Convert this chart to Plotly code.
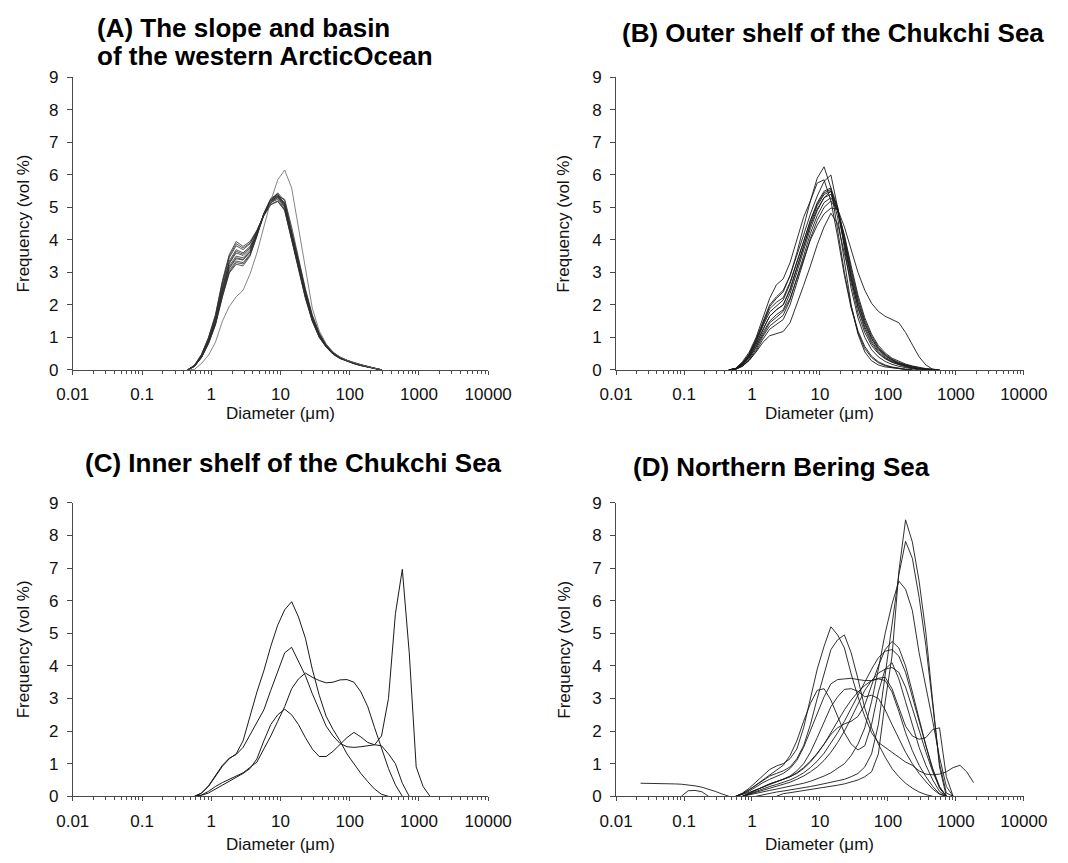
import plotly.graph_objects as go

# ---------------- data ----------------
TICK_VALS = [0.01, 0.1, 1, 10, 100, 1000, 10000]
TICK_TEXT = ["0.01", "0.1", "1", "10", "100", "1000", "10000"]
Y_TICKS = [0, 1, 2, 3, 4, 5, 6, 7, 8, 9]

A_DIAM = [0.457, 0.575, 0.724, 0.912, 1.15, 1.45, 1.82, 2.29, 2.88, 3.63, 4.57, 5.75, 7.24, 9.12,
          11.5, 14.5, 18.2, 22.9, 28.8, 36.3, 45.7, 57.5, 72.4, 91.2, 115, 145, 182, 229, 288]
A_CURVES = [
    [0, 0.15, 0.48, 1.0, 1.7, 2.75, 3.55, 3.95, 3.8, 3.95, 4.3, 4.75, 5.1, 5.2, 4.9, 4.0, 3.1, 2.2, 1.5, 1.0, 0.7, 0.48, 0.35, 0.26, 0.19, 0.13, 0.08, 0.03, 0],
    [0, 0.14, 0.46, 0.96, 1.64, 2.65, 3.45, 3.82, 3.7, 3.88, 4.28, 4.78, 5.15, 5.25, 4.95, 4.05, 3.15, 2.25, 1.52, 1.02, 0.71, 0.49, 0.36, 0.27, 0.2, 0.14, 0.09, 0.04, 0],
    [0, 0.13, 0.44, 0.92, 1.58, 2.56, 3.35, 3.7, 3.6, 3.8, 4.25, 4.78, 5.18, 5.3, 5.0, 4.1, 3.18, 2.27, 1.53, 1.03, 0.72, 0.5, 0.36, 0.27, 0.2, 0.14, 0.09, 0.04, 0],
    [0, 0.13, 0.42, 0.9, 1.52, 2.48, 3.27, 3.6, 3.52, 3.74, 4.22, 4.8, 5.2, 5.33, 5.02, 4.12, 3.2, 2.3, 1.55, 1.05, 0.72, 0.5, 0.36, 0.27, 0.2, 0.14, 0.09, 0.04, 0],
    [0, 0.12, 0.41, 0.87, 1.48, 2.42, 3.2, 3.5, 3.45, 3.68, 4.2, 4.8, 5.22, 5.35, 5.05, 4.15, 3.22, 2.32, 1.56, 1.06, 0.73, 0.51, 0.37, 0.28, 0.2, 0.14, 0.09, 0.04, 0],
    [0, 0.12, 0.4, 0.85, 1.45, 2.36, 3.12, 3.42, 3.38, 3.62, 4.18, 4.8, 5.24, 5.38, 5.08, 4.18, 3.25, 2.34, 1.58, 1.07, 0.73, 0.51, 0.37, 0.28, 0.21, 0.15, 0.09, 0.04, 0],
    [0, 0.11, 0.39, 0.83, 1.42, 2.3, 3.05, 3.35, 3.3, 3.56, 4.15, 4.8, 5.26, 5.4, 5.1, 4.2, 3.28, 2.36, 1.6, 1.08, 0.74, 0.52, 0.37, 0.28, 0.21, 0.15, 0.1, 0.04, 0],
    [0, 0.11, 0.38, 0.8, 1.38, 2.24, 2.98, 3.25, 3.2, 3.5, 4.12, 4.82, 5.28, 5.42, 5.12, 4.22, 3.3, 2.38, 1.62, 1.09, 0.75, 0.52, 0.38, 0.29, 0.21, 0.15, 0.1, 0.05, 0],
    [0, 0.14, 0.47, 0.98, 1.67, 2.7, 3.5, 3.88, 3.75, 3.9, 4.28, 4.74, 5.08, 5.18, 4.92, 4.02, 3.12, 2.22, 1.5, 1.0, 0.7, 0.48, 0.35, 0.26, 0.19, 0.13, 0.08, 0.03, 0],
    [0, 0.12, 0.4, 0.86, 1.46, 2.38, 3.15, 3.45, 3.4, 3.64, 4.18, 4.78, 5.2, 5.45, 5.2, 4.3, 3.35, 2.42, 1.64, 1.1, 0.76, 0.53, 0.38, 0.29, 0.21, 0.15, 0.1, 0.05, 0],
    [0, 0.13, 0.43, 0.91, 1.55, 2.52, 3.3, 3.65, 3.56, 3.76, 4.22, 4.76, 5.15, 5.3, 5.15, 4.3, 3.38, 2.45, 1.66, 1.12, 0.77, 0.53, 0.39, 0.29, 0.21, 0.15, 0.1, 0.05, 0],
    [0, 0.11, 0.38, 0.81, 1.4, 2.27, 3.0, 3.3, 3.26, 3.53, 4.12, 4.76, 5.2, 5.35, 5.25, 4.4, 3.45, 2.5, 1.7, 1.14, 0.78, 0.54, 0.39, 0.29, 0.22, 0.16, 0.1, 0.05, 0],
]
A_OUTLIER = [0, 0.02, 0.2, 0.45, 0.85, 1.5, 1.95, 2.25, 2.45, 2.95, 3.6, 4.4, 5.2, 5.85, 6.15, 5.6, 4.4, 3.1, 1.9, 1.2, 0.8, 0.55, 0.4, 0.3, 0.22, 0.16, 0.1, 0.05, 0]

B_DIAM = [0.457, 0.575, 0.724, 0.912, 1.15, 1.45, 1.82, 2.29, 2.88, 3.63, 4.57, 5.75, 7.24, 9.12, 11.5, 14.5,
          18.2, 22.9, 28.8, 36.3, 45.7, 57.5, 72.4, 91.2, 115, 145, 182, 229, 288, 363, 457, 575]
B_CURVES = [
    [0, 0.05, 0.25, 0.55, 1.0, 1.6, 2.2, 2.62, 2.8, 3.3, 4.0, 4.7, 5.2, 5.75, 5.85, 5.2, 4.1, 2.9, 1.9, 1.15, 0.65, 0.38, 0.22, 0.13, 0.07, 0.03, 0.01, 0, 0, 0, 0, 0],
    [0, 0.04, 0.2, 0.48, 0.9, 1.45, 1.95, 2.2, 2.4, 2.9, 3.6, 4.4, 5.2, 5.9, 6.25, 5.6, 4.3, 3.0, 1.95, 1.2, 0.72, 0.42, 0.25, 0.15, 0.09, 0.05, 0.02, 0, 0, 0, 0, 0],
    [0, 0.02, 0.12, 0.3, 0.55, 0.85, 1.05, 1.12, 1.18, 1.45, 2.0, 2.6, 3.2, 3.85, 4.4, 4.82, 4.5, 3.6, 2.6, 1.75, 1.15, 0.75, 0.5, 0.34, 0.23, 0.15, 0.09, 0.05, 0.02, 0, 0, 0],
    [0, 0.03, 0.16, 0.38, 0.7, 1.1, 1.45, 1.62, 1.8, 2.2, 2.8, 3.4, 4.0, 4.45, 4.8, 4.98, 4.95, 4.4, 3.7, 3.0, 2.45, 2.05, 1.8, 1.65, 1.55, 1.45, 1.15, 0.75, 0.4, 0.15, 0.02, 0],
    [0, 0.04, 0.22, 0.5, 0.95, 1.5, 2.0, 2.25, 2.45, 2.9, 3.5, 4.15, 4.8, 5.35, 5.8, 6.0, 5.0, 3.7, 2.5, 1.6, 1.0, 0.62, 0.4, 0.26, 0.17, 0.11, 0.06, 0.03, 0, 0, 0, 0],
    [0, 0.03, 0.17, 0.42, 0.8, 1.25, 1.65, 1.85, 2.0, 2.45, 3.1, 3.8, 4.5, 5.05, 5.4, 5.5, 4.7, 3.3, 2.0, 1.1, 0.55, 0.28, 0.15, 0.09, 0.06, 0.04, 0.02, 0, 0, 0, 0, 0],
    [0, 0.03, 0.18, 0.45, 0.85, 1.35, 1.78, 1.98, 2.15, 2.65, 3.3, 3.95, 4.6, 5.1, 5.45, 5.55, 4.9, 3.85, 2.8, 1.95, 1.32, 0.88, 0.58, 0.39, 0.27, 0.18, 0.11, 0.06, 0.03, 0.01, 0, 0],
    [0, 0.03, 0.16, 0.4, 0.78, 1.25, 1.65, 1.85, 2.0, 2.5, 3.15, 3.8, 4.45, 4.95, 5.3, 5.4, 4.9, 3.95, 2.9, 2.05, 1.4, 0.95, 0.63, 0.43, 0.3, 0.2, 0.13, 0.08, 0.04, 0.02, 0, 0],
    [0, 0.02, 0.14, 0.36, 0.72, 1.15, 1.5, 1.7, 1.85, 2.35, 3.0, 3.7, 4.35, 4.9, 5.3, 5.5, 5.0, 4.05, 3.0, 2.1, 1.45, 0.98, 0.66, 0.45, 0.31, 0.21, 0.14, 0.09, 0.05, 0.02, 0.01, 0],
    [0, 0.02, 0.12, 0.32, 0.64, 1.03, 1.35, 1.52, 1.68, 2.15, 2.8, 3.5, 4.2, 4.75, 5.15, 5.3, 4.95, 4.1, 3.1, 2.2, 1.52, 1.04, 0.7, 0.48, 0.33, 0.23, 0.16, 0.1, 0.06, 0.03, 0.01, 0],
    [0, 0.04, 0.2, 0.47, 0.9, 1.42, 1.88, 2.08, 2.22, 2.7, 3.3, 3.95, 4.6, 5.15, 5.5, 5.6, 5.0, 3.9, 2.8, 1.9, 1.25, 0.82, 0.54, 0.36, 0.25, 0.17, 0.11, 0.06, 0.03, 0.01, 0, 0],
    [0, 0.02, 0.11, 0.29, 0.58, 0.95, 1.25, 1.4, 1.55, 2.0, 2.65, 3.35, 4.05, 4.6, 5.0, 5.2, 4.9, 4.15, 3.2, 2.3, 1.6, 1.1, 0.75, 0.52, 0.36, 0.26, 0.18, 0.12, 0.07, 0.04, 0.02, 0],
]

C_DIAM = [0.575, 0.724, 0.912, 1.15, 1.45, 1.82, 2.29, 2.88, 3.63, 4.57, 5.75, 7.24, 9.12, 11.5, 14.5, 18.2, 22.9, 28.8,
          36.3, 45.7, 57.5, 72.4, 91.2, 115, 145, 182, 229, 288, 363, 457, 575, 724, 912, 1148, 1445]
C_CURVES = [
    [0, 0.1, 0.3, 0.62, 0.92, 1.15, 1.3, 1.7, 2.45, 3.2, 3.85, 4.6, 5.25, 5.72, 5.97, 5.5, 4.85, 3.9, 3.1, 2.45, 2.05, 1.7, 1.3, 1.0, 0.7, 0.45, 0.22, 0.06, 0, 0, 0, 0, 0, 0, 0],
    [0, 0.1, 0.32, 0.65, 0.95, 1.17, 1.28, 1.5, 1.9, 2.25, 2.65, 3.25, 3.85, 4.4, 4.57, 4.15, 3.7, 3.15, 2.65, 2.15, 1.85, 1.62, 1.52, 1.5, 1.52, 1.55, 1.58, 1.55, 1.3, 1.0, 0.4, 0, 0, 0, 0],
    [0, 0.04, 0.15, 0.3, 0.42, 0.53, 0.62, 0.72, 0.88, 1.05, 1.45, 1.85, 2.3, 2.75, 3.3, 3.6, 3.78, 3.65, 3.55, 3.48, 3.5, 3.57, 3.58, 3.5, 3.2, 2.75, 2.1, 1.45, 0.85, 0.35, 0, 0, 0, 0, 0],
    [0, 0.03, 0.1, 0.22, 0.36, 0.48, 0.58, 0.7, 0.85, 1.15, 1.7, 2.2, 2.5, 2.67, 2.5, 2.2, 1.8, 1.45, 1.22, 1.22, 1.38, 1.58, 1.8, 1.96, 1.82, 1.65, 1.58, 1.85, 3.0, 5.6, 6.96, 4.4, 0.9, 0.3, 0],
]

D_DIAM = [0.575, 0.724, 0.912, 1.15, 1.45, 1.82, 2.29, 2.88, 3.63, 4.57, 5.75, 7.24, 9.12, 11.5, 14.5, 18.2, 22.9, 28.8,
          36.3, 45.7, 57.5, 72.4, 91.2, 115, 145, 182, 229, 288, 363, 457, 575, 724, 912, 1148, 1445, 1820]
D_CURVES = [
    [0, 0, 0, 0, 0, 0, 0, 0.08, 0.11, 0.14, 0.17, 0.2, 0.23, 0.27, 0.3, 0.34, 0.38, 0.43, 0.5, 0.6, 0.75, 1.3, 2.9, 4.3, 6.9, 8.48, 7.8, 6.6, 5.0, 2.9, 0.9, 0, 0, 0, 0, 0],
    [0, 0, 0, 0, 0.05, 0.1, 0.13, 0.16, 0.19, 0.22, 0.26, 0.3, 0.34, 0.38, 0.42, 0.47, 0.52, 0.6, 0.7, 0.9, 1.3, 2.2, 3.7, 5.3, 6.8, 7.82, 7.3, 6.1, 4.6, 2.8, 1.0, 0.1, 0, 0, 0, 0],
    [0, 0, 0.05, 0.1, 0.14, 0.18, 0.22, 0.26, 0.3, 0.35, 0.4, 0.46, 0.53, 0.62, 0.72, 0.85, 1.0, 1.25, 1.6, 2.1, 2.9, 3.9, 5.0, 5.9, 6.6, 6.35, 5.7, 4.4, 3.4, 2.3, 1.2, 0.3, 0, 0, 0, 0],
    [0, 0.05, 0.12, 0.2, 0.28, 0.35, 0.42, 0.5, 0.6, 0.72, 0.88, 1.08, 1.32, 1.6, 1.9, 2.1, 2.22, 2.3, 2.45, 2.8, 3.4, 4.0, 4.5, 4.75, 4.55, 4.0, 3.2, 2.35, 1.55, 0.85, 0.3, 0, 0, 0, 0, 0],
    [0, 0, 0.08, 0.16, 0.24, 0.3, 0.36, 0.42, 0.5, 0.6, 0.72, 0.88, 1.08, 1.32, 1.62, 1.95, 2.3, 2.7, 3.1, 3.5, 3.9, 4.25, 4.45, 4.5, 4.3, 3.8, 3.05, 2.25, 1.5, 0.8, 0.25, 0, 0, 0, 0, 0],
    [0, 0, 0.06, 0.12, 0.18, 0.24, 0.3, 0.36, 0.43, 0.52, 0.62, 0.75, 0.9, 1.1, 1.35, 1.65, 2.0, 2.4, 2.85, 3.25, 3.55, 3.78, 3.9, 3.95, 3.8, 3.35, 2.7, 2.0, 1.35, 0.75, 0.28, 0, 0, 0, 0, 0],
    [0, 0, 0.1, 0.2, 0.3, 0.38, 0.45, 0.52, 0.6, 0.7, 0.85, 1.05, 1.3, 1.6, 1.95, 2.3, 2.65, 2.95, 3.2, 3.4, 3.55, 3.62, 3.65, 3.3, 2.7, 2.15, 1.85, 1.75, 1.8, 2.05, 2.1, 0.6, 0, 0, 0, 0],
    [0, 0.1, 0.25, 0.45, 0.65, 0.82, 0.93, 1.0, 1.15, 1.45, 2.1, 3.0, 3.9, 4.6, 5.2, 4.95, 4.55, 3.75, 3.05, 2.45, 1.95, 1.65, 1.5, 1.35, 1.2, 1.05, 0.95, 0.78, 0.68, 0.66, 0.68, 0.75, 0.88, 0.95, 0.75, 0.42],
    [0, 0.08, 0.2, 0.35, 0.5, 0.62, 0.7, 0.78, 0.9, 1.15, 1.55, 2.2, 3.0, 3.75, 4.5, 4.8, 4.95, 4.4, 3.6, 2.7, 2.1, 1.6, 1.2, 0.85, 0.6, 0.4, 0.25, 0.13, 0.05, 0, 0, 0, 0, 0, 0, 0],
    [0, 0.08, 0.2, 0.35, 0.5, 0.65, 0.78, 0.95, 1.25, 1.7, 2.3, 2.85, 3.25, 3.3, 2.95, 2.45, 1.95, 1.6, 1.42, 1.55, 2.2, 3.2, 3.9, 4.1, 3.6, 2.9, 2.2, 1.5, 0.95, 0.5, 0.15, 0, 0, 0, 0, 0],
    [0, 0.06, 0.16, 0.3, 0.42, 0.52, 0.6, 0.7, 0.85, 1.1, 1.5, 2.0, 2.55, 3.05, 3.45, 3.58, 3.6, 3.62, 3.58, 3.55, 3.55, 3.6, 3.55, 3.2, 2.6, 1.95, 1.4, 0.95, 0.6, 0.3, 0.08, 0, 0, 0, 0, 0],
    [0, 0, 0.1, 0.2, 0.3, 0.38, 0.45, 0.52, 0.62, 0.78, 1.0, 1.35, 1.8, 2.3, 2.75, 3.05, 3.28, 3.3, 3.22, 3.05, 3.1, 3.0, 2.65, 2.2, 1.75, 1.35, 1.0, 0.7, 0.45, 0.22, 0.06, 0, 0, 0, 0, 0],
]
D_FINE_DIAM = [0.0229, 0.0288, 0.0363, 0.0457, 0.0575, 0.0724, 0.0912, 0.115, 0.145, 0.182, 0.229, 0.288, 0.363, 0.457]
D_FINE = [0.4, 0.4, 0.4, 0.4, 0.39, 0.38, 0.37, 0.35, 0.32, 0.28, 0.22, 0.15, 0.07, 0]
D_HUMP_DIAM = [0.0912, 0.115, 0.145, 0.182, 0.229]
D_HUMP = [0, 0.17, 0.18, 0.14, 0]

TITLES = ["(A) The slope and basin", "of the western ArcticOcean", "(B) Outer shelf of the Chukchi Sea",
          "(C) Inner shelf of the Chukchi Sea", "(D) Northern Bering Sea"]
X_TITLE = "Diameter (\u03bcm)"
Y_TITLE = "Frequency (vol %)"

# ---------------- figure ----------------
W, H = 1068, 863
FONT = "Liberation Sans, Arial, sans-serif"
AX = "#4a4a4a"


def trim(xs, ys):
    """drop runs of zeros at both ends (keep one zero next to the data)"""
    nz = [i for i, v in enumerate(ys) if v != 0]
    if not nz:
        return xs, ys
    a = max(nz[0] - 1, 0)
    b = min(nz[-1] + 1, len(ys) - 1)
    return xs[a:b + 1], ys[a:b + 1]


# panel geometry in pixels: (x0, x1, ytop, ybottom, ytitle_x)
GEOM = {
    1: (58, 490, 70, 369, 7),
    2: (623, 1047, 70, 369, 569),
    3: (58, 490, 505, 805, 7),
    4: (623, 1047, 505, 805, 569),
}
XTITLE_GAP = {1: 45, 2: 45, 3: 49, 4: 49}

fig = go.Figure()


def add_lines(panel, xs, curves, color, width):
    sfx = "" if panel == 1 else str(panel)
    for ys in curves:
        tx, ty = trim(xs, ys)
        fig.add_trace(go.Scatter(x=tx, y=ty, mode="lines", xaxis="x" + sfx, yaxis="y" + sfx,
                                 line=dict(color=color, width=width), hoverinfo="skip",
                                 showlegend=False))


add_lines(1, A_DIAM, A_CURVES, "#2e2e2e", 0.8)
add_lines(1, A_DIAM, [A_OUTLIER], "#666666", 0.8)
add_lines(2, B_DIAM, B_CURVES, "#1a1a1a", 0.9)
add_lines(3, C_DIAM, C_CURVES, "#1a1a1a", 1.0)
add_lines(4, D_DIAM, D_CURVES, "#1a1a1a", 0.9)
add_lines(4, D_FINE_DIAM, [D_FINE], "#1a1a1a", 0.9)
add_lines(4, D_HUMP_DIAM, [D_HUMP], "#1a1a1a", 0.9)

minor_vals = [m * 10 ** k for k in range(-2, 4) for m in range(2, 10)]

layout = dict(width=W, height=H, margin=dict(l=0, r=0, t=0, b=0),
              paper_bgcolor="white", plot_bgcolor="white", showlegend=False)
annotations = []
for p, (x0, x1, yt, yb, ytx) in GEOM.items():
    sfx = "" if p == 1 else str(p)
    layout["xaxis" + sfx] = dict(
        type="log", range=[-2, 4], domain=[x0 / W, x1 / W], anchor="y" + sfx,
        tickvals=TICK_VALS, ticktext=TICK_TEXT, ticks="outside", ticklen=4, tickwidth=1,
        tickcolor=AX, showline=True, linecolor=AX, linewidth=1, showgrid=False, zeroline=False,
        ticklabelstandoff=5,
        tickfont=dict(family=FONT, size=17, color="#111"),
        minor=dict(tickvals=minor_vals, ticks="outside", ticklen=3, tickwidth=1, tickcolor=AX,
                   showgrid=False),
    )
    layout["yaxis" + sfx] = dict(
        range=[0, 9], domain=[1 - yb / H, 1 - yt / H], anchor="x" + sfx,
        tickvals=Y_TICKS, ticks="outside", ticklen=5, tickwidth=1, tickcolor=AX,
        showline=True, linecolor=AX, linewidth=1, showgrid=False, zeroline=False,
        ticklabelstandoff=5,
        tickfont=dict(family=FONT, size=17, color="#111"),
    )
    annotations.append(dict(text=X_TITLE, xref="paper", yref="paper", x=(x0 + x1) / 2 / W,
                            y=1 - (yb + XTITLE_GAP[p]) / H, xanchor="center", yanchor="middle",
                            showarrow=False, font=dict(family=FONT, size=17, color="#111")))
    annotations.append(dict(text=Y_TITLE, xref="paper", yref="paper", x=ytx / W,
                            y=1 - (yt + yb) / 2 / H, xanchor="center", yanchor="middle",
                            textangle=-90, showarrow=False,
                            font=dict(family=FONT, size=17, color="#111")))

title_pos = [(81, 19), (81, 48), (627, 25), (69, 464), (639, 468)]
for t, (px, py) in zip(TITLES, title_pos):
    annotations.append(dict(text="<b>" + t + "</b>", xref="paper", yref="paper", x=px / W, y=1 - py / H,
                            xanchor="left", yanchor="middle", showarrow=False,
                            font=dict(family=FONT, size=26, color="#000")))

layout["annotations"] = annotations
fig.update_layout(**layout)
fig.write_html("out.html")
